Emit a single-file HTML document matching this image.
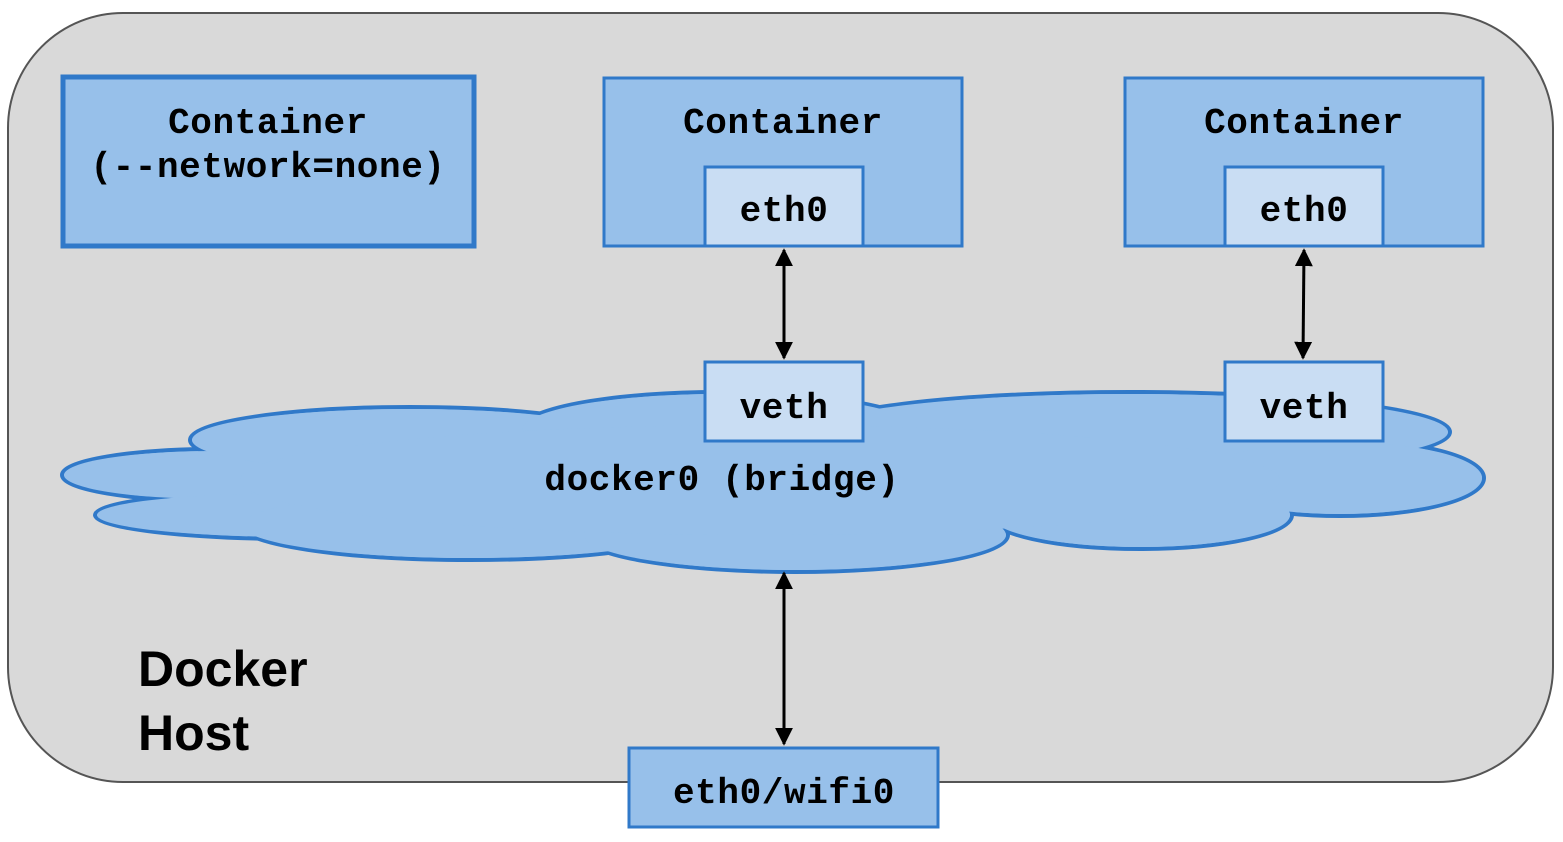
<!DOCTYPE html>
<html><head><meta charset="utf-8"><style>
html,body{margin:0;padding:0;background:#fff;}
svg{display:block;}
.m{font-family:"Liberation Mono","DejaVu Sans Mono",monospace;font-weight:bold;font-size:36px;letter-spacing:0.6px;fill:#000;}
</style></head><body>
<svg width="1563" height="842" viewBox="0 0 1563 842">
<defs>
<marker id="a" viewBox="0 0 10 10" refX="9" refY="5" markerWidth="6" markerHeight="6" orient="auto-start-reverse"><path d="M0,0 L10,5 L0,10 z" fill="#000"/></marker>
</defs>
<rect x="8" y="13" width="1545" height="769" rx="115" fill="#d9d9d9" stroke="#555" stroke-width="2"/>
<g fill="#97c0ea" stroke="#3079c9" stroke-width="4">
<ellipse cx="215" cy="475" rx="153" ry="26"/>
<ellipse cx="300" cy="515" rx="205" ry="24"/>
<ellipse cx="410" cy="440" rx="220" ry="33"/>
<ellipse cx="470" cy="525" rx="230" ry="35"/>
<ellipse cx="720" cy="430" rx="200" ry="38"/>
<ellipse cx="795" cy="535" rx="213" ry="37"/>
<ellipse cx="1130" cy="432" rx="320" ry="40"/>
<ellipse cx="1340" cy="478" rx="144" ry="38"/>
<ellipse cx="1140" cy="515" rx="152" ry="34"/>
</g>
<g fill="#97c0ea">
<ellipse cx="215" cy="475" rx="151" ry="24"/>
<ellipse cx="300" cy="515" rx="203" ry="22"/>
<ellipse cx="410" cy="440" rx="218" ry="31"/>
<ellipse cx="470" cy="525" rx="228" ry="33"/>
<ellipse cx="720" cy="430" rx="198" ry="36"/>
<ellipse cx="795" cy="535" rx="211" ry="35"/>
<ellipse cx="1130" cy="432" rx="318" ry="38"/>
<ellipse cx="1340" cy="478" rx="142" ry="36"/>
<ellipse cx="1140" cy="515" rx="150" ry="32"/>
<ellipse cx="760" cy="480" rx="520" ry="55"/>
</g>
<text x="722" y="490" class="m" text-anchor="middle">docker0 (bridge)</text>
<rect x="63" y="77" width="411" height="169" fill="#97c0ea" stroke="#3079c9" stroke-width="5"/>
<text x="268" y="133" class="m" text-anchor="middle">Container</text>
<text x="268" y="177" class="m" text-anchor="middle">(--network=none)</text>
<rect x="604" y="78" width="358" height="168" fill="#97c0ea" stroke="#3079c9" stroke-width="3"/>
<text x="783" y="133" class="m" text-anchor="middle">Container</text>
<rect x="705" y="167" width="158" height="79" fill="#c9ddf3" stroke="#3079c9" stroke-width="3"/>
<text x="784" y="221" class="m" text-anchor="middle">eth0</text>
<rect x="1125" y="78" width="358" height="168" fill="#97c0ea" stroke="#3079c9" stroke-width="3"/>
<text x="1304" y="133" class="m" text-anchor="middle">Container</text>
<rect x="1225" y="167" width="158" height="79" fill="#c9ddf3" stroke="#3079c9" stroke-width="3"/>
<text x="1304" y="221" class="m" text-anchor="middle">eth0</text>
<rect x="705" y="362" width="158" height="79" fill="#c9ddf3" stroke="#3079c9" stroke-width="3"/>
<text x="784" y="418" class="m" text-anchor="middle">veth</text>
<rect x="1225" y="362" width="158" height="79" fill="#c9ddf3" stroke="#3079c9" stroke-width="3"/>
<text x="1304" y="418" class="m" text-anchor="middle">veth</text>
<g stroke="#000" stroke-width="3">
<line x1="784" y1="250" x2="784" y2="358" marker-start="url(#a)" marker-end="url(#a)"/>
<line x1="1304" y1="250" x2="1303" y2="358" marker-start="url(#a)" marker-end="url(#a)"/>
<line x1="784" y1="573" x2="784" y2="744" marker-start="url(#a)" marker-end="url(#a)"/>
</g>
<rect x="629" y="748" width="309" height="79" fill="#97c0ea" stroke="#3079c9" stroke-width="3"/>
<text x="784" y="803" class="m" text-anchor="middle">eth0/wifi0</text>
<text x="138" y="686" font-family="Liberation Sans, sans-serif" font-weight="bold" font-size="50" fill="#000">Docker</text>
<text x="138" y="750" font-family="Liberation Sans, sans-serif" font-weight="bold" font-size="50" fill="#000">Host</text>
</svg>
</body></html>
